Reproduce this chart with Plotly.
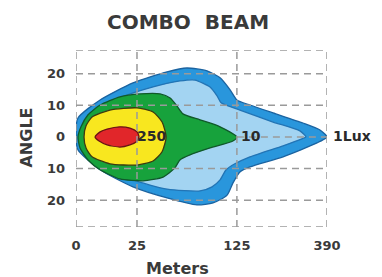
import plotly.graph_objects as go

# ---- data (x in relative distance units 0..100, y in degrees) ----
x_tick_vals = [0, 24.3, 64.1, 100]
x_tick_text = ["0", "25", "125", "390"]
y_tick_vals = [-20, -10, 0, 10, 20]
y_tick_text = ["20", "10", "0", "10", "20"]

# 1 Lux (outer, dark blue)
lux1_x = [0, 0.8, 9.6, 22.7, 36.3, 44.2, 52.2, 57.4, 61.4, 64.1, 69.3, 78.5, 90.4, 97.2, 100,
          96.0, 82.5, 69.3, 65.3, 62.5, 60.2, 54.6, 48.2, 36.3, 22.7, 9.6, 0.8, 0]
lux1_y = [0, 6.0, 11.7, 17.1, 20.6, 21.8, 20.9, 18.7, 14.9, 11.7, 10.1, 7.6, 4.4, 2.2, 0,
          -1.9, -6.3, -9.5, -11.1, -14.6, -18.4, -20.9, -21.5, -19.3, -15.8, -10.4, -4.1, 0]

# 10 Lux (light blue)
lux10_x = [1.2, 2.4, 5.6, 17.5, 30.7, 41.4, 47.4, 53.4, 56.2, 57.8, 65.3, 78.5, 89.2, 91.6,
           90.0, 82.5, 69.3, 63.3, 59.8, 57.4, 54.2, 49.4, 36.3, 22.7, 9.6, 4.8, 2.0, 1.2]
lux10_y = [0, 3.5, 6.3, 12.3, 15.8, 17.7, 18.0, 15.8, 13.0, 10.8, 8.5, 4.7, 1.9, 0,
           -0.6, -2.8, -6.3, -8.5, -10.4, -13.6, -15.8, -17.1, -16.5, -13.6, -8.5, -5.7, -2.8, 0]

# green zone
green_x = [0.8, 2.0, 4.8, 9.6, 17.5, 25.5, 33.5, 37.5, 40.2, 42.6, 49.4, 57.4, 64.1,
           62.5, 53.4, 45.4, 41.4, 39.4, 34.7, 26.7, 17.5, 9.6, 4.8, 1.6, 0.8]
green_y = [0, 3.2, 7.0, 10.1, 12.7, 13.6, 13.6, 12.3, 9.8, 7.3, 5.4, 3.2, 0,
           -1.3, -3.5, -5.7, -7.3, -9.8, -12.7, -13.9, -13.3, -10.4, -7.3, -3.5, 0]

# yellow zone
yellow_x = [3.2, 4.0, 6.4, 13.5, 24.3, 30.7, 34.3, 35.9, 34.3, 30.7, 24.3, 13.5, 6.4, 4.0, 3.2]
yellow_y = [0, 3.5, 6.3, 8.5, 9.2, 7.9, 4.7, 0, -4.7, -7.6, -8.9, -8.5, -6.3, -3.5, 0]

# red zone
red_x = [7.6, 9.6, 12.4, 17.5, 21.5, 24.3, 25.1, 23.9, 21.5, 17.5, 12.4, 9.2, 7.6]
red_y = [0, 1.6, 2.5, 3.2, 2.8, 1.6, 0, -1.6, -2.5, -3.2, -2.5, -1.3, 0]

zone_labels = ["250", "10", "1Lux"]
zone_label_x = [30.0, 69.6, 110.0]
zone_label_y = [0.3, 0.3, 0.3]

X_MIN, X_MAX = 0, 100
Y_MIN, Y_MAX = -28.5, 27.5

# ---- figure ----
fig = go.Figure()
zones = [
    (lux1_x, lux1_y, "#2996dc", "#1b63a0"),
    (lux10_x, lux10_y, "#a3d4f2", "#2274b5"),
    (green_x, green_y, "#17a23c", "#10592a"),
    (yellow_x, yellow_y, "#f8e71f", "#3d3a12"),
    (red_x, red_y, "#e1262a", "#6a1414"),
]
for xs, ys, fillc, linec in zones:
    fig.add_trace(go.Scatter(x=xs, y=ys, mode="lines", fill="toself",
                             fillcolor=fillc,
                             line=dict(color=linec, width=1.3, shape="spline", smoothing=0.6),
                             hoverinfo="skip", showlegend=False))

grid = dict(color="#9a9a9a", width=1.5, dash="7px,5px")
for xv in x_tick_vals:
    fig.add_shape(type="line", x0=xv, x1=xv, y0=Y_MIN, y1=Y_MAX, xref="x", yref="y",
                  line=grid, layer="above")
for yv in y_tick_vals + [Y_MIN, Y_MAX]:
    if yv == 0:
        continue
    fig.add_shape(type="line", x0=X_MIN, x1=X_MAX, y0=yv, y1=yv, xref="x", yref="y",
                  line=grid, layer="above")
fig.add_shape(type="line", x0=x_tick_vals[2], x1=X_MAX, y0=0, y1=0, xref="x", yref="y",
              line=grid, layer="above")

font_b = "DejaVu Sans"
for t, xv, yv in zip(zone_labels, zone_label_x, zone_label_y):
    fig.add_annotation(x=(xv - X_MIN) / (X_MAX - X_MIN), y=yv, xref="paper", yref="y",
                       text="<b>%s</b>" % t, showarrow=False,
                       xanchor="center", yanchor="middle",
                       font=dict(family=font_b, size=14, color="#2a2a2a"))

common = dict(xref="paper", yref="paper", showarrow=False, xanchor="center", yanchor="middle")
fig.add_annotation(x=0.446, y=1.158, text="<b>COMBO  BEAM</b>",
                   font=dict(family=font_b, size=20, color="#3a3a3a"), **common)
fig.add_annotation(x=0.406, y=-0.232, text="<b>Meters</b>",
                   font=dict(family=font_b, size=16, color="#3a3a3a"), **common)
fig.add_annotation(x=-0.197, y=0.503, text="<b>ANGLE</b>", textangle=-90,
                   font=dict(family=font_b, size=16, color="#3a3a3a"), **common)

fig.update_layout(
    width=382, height=277,
    margin=dict(l=68, r=63, t=42, b=58),
    paper_bgcolor="white", plot_bgcolor="white",
    xaxis=dict(range=[X_MIN, X_MAX], tickvals=x_tick_vals,
               ticktext=["<b>%s</b>" % t for t in x_tick_text],
               showgrid=False, zeroline=False, showline=False, ticks="",
               ticklabelstandoff=9,
               tickfont=dict(family=font_b, size=13, color="#3a3a3a"), fixedrange=True),
    yaxis=dict(range=[Y_MIN, Y_MAX], tickvals=y_tick_vals,
               ticktext=["<b>%s</b>" % t for t in y_tick_text],
               showgrid=False, zeroline=False, showline=False, ticks="",
               ticklabelstandoff=10,
               tickfont=dict(family=font_b, size=13, color="#3a3a3a"), fixedrange=True),
)

fig.write_html("out.html")
